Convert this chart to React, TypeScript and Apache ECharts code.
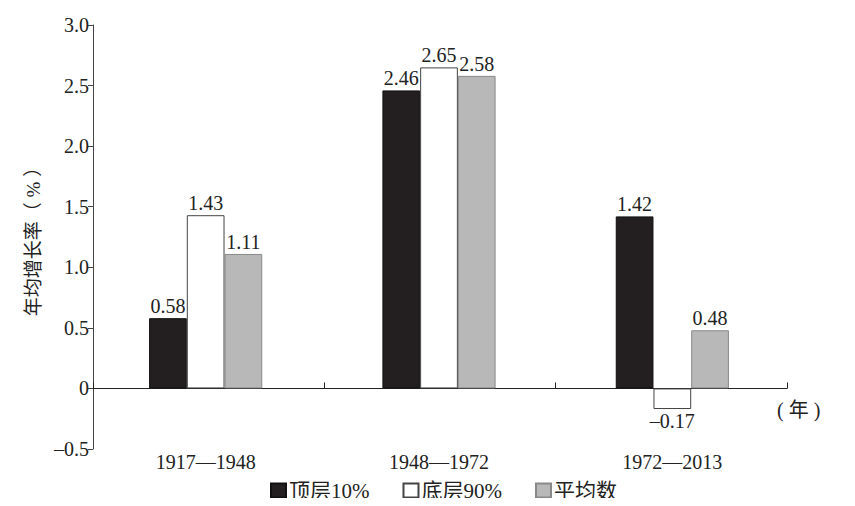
import React, { useEffect, useRef } from "react";
import * as echarts from "echarts";

const categories = ["1917—1948", "1948—1972", "1972—2013"];
const seriesNames = ["顶层10%", "底层90%", "平均数"];
const top10 = [0.58, 2.46, 1.42];
const bottom90 = [1.43, 2.65, -0.17];
const average = [1.11, 2.58, 0.48];
const yMin = -0.5;
const yMax = 3.0;
const yInterval = 0.5;

const FONT = "'Liberation Serif', 'Noto Sans CJK SC', serif";
const dash = (s: string) => s.replace("-", "–");

export default function App() {
  const ref = useRef<HTMLDivElement>(null);
  useEffect(() => {
    if (!ref.current) return;
    const chart = echarts.init(ref.current, null, { renderer: "svg" });
    const fmt = (v: number) => dash(v.toFixed(2));
    const mk = (arr: number[]) =>
      arr.map((v) => ({
        value: v,
        label: { position: v < 0 ? "bottom" : "top" },
      }));
    const baseLabel = {
      show: true,
      fontSize: 20,
      fontFamily: FONT,
      color: "#222",
      distance: 2,
      formatter: (p: any) => fmt(p.value),
    };
    chart.setOption({
      animation: false,
      backgroundColor: "#fff",
      textStyle: { fontFamily: FONT },
      grid: [
        { left: 89, right: 66, top: 25, bottom: 57, containLabel: false },
        { left: 93, right: 68, top: 25, bottom: 57, containLabel: false },
      ],
      legend: {
        data: seriesNames,
        left: 270,
        top: 480,
        padding: 0,
        itemWidth: 15,
        itemHeight: 14,
        itemGap: 33,
        icon: "rect",
        selectedMode: false,
        textStyle: { fontSize: 21, fontFamily: FONT, color: "#222", padding: [0, 0, 0, -2] },
      },
      xAxis: [
        {
          type: "category",
          gridIndex: 0,
          data: categories,
          position: "bottom",
          axisLine: { show: false, onZero: false },
          axisTick: { show: false },
          axisLabel: { fontSize: 20, fontFamily: FONT, color: "#222", margin: 3 },
        },
        {
          type: "category",
          gridIndex: 1,
          data: categories,
          position: "bottom",
          axisLine: { show: true, onZero: true, lineStyle: { color: "#222", width: 1 } },
          axisTick: { show: true, inside: true, length: 6, lineStyle: { color: "#222" } },
          axisLabel: { show: false },
          splitLine: { show: false },
        },
      ],
      yAxis: [
        {
          type: "value",
          gridIndex: 0,
          min: yMin,
          max: yMax,
          interval: yInterval,
          show: false,
          splitLine: { show: false },
        },
        {
          type: "value",
          gridIndex: 1,
          min: yMin,
          max: yMax,
          interval: yInterval,
          name: "年均增长率（ % ）",
          nameLocation: "middle",
          nameRotate: 90,
          nameGap: 50,
          nameTextStyle: { fontSize: 19, fontFamily: FONT, color: "#222" },
          axisLine: { show: true, lineStyle: { color: "#444" } },
          axisTick: { show: true, length: 5, lineStyle: { color: "#444" } },
          splitLine: { show: false },
          axisLabel: {
            fontSize: 20,
            fontFamily: FONT,
            color: "#222",
            margin: 4,
            formatter: (v: number) => (v === 0 ? "0" : dash(v.toFixed(1))),
          },
        },
      ],
      series: [
        {
          name: seriesNames[0],
          type: "bar",
          xAxisIndex: 0,
          yAxisIndex: 0,
          data: mk(top10),
          barGap: "0%",
          barCategoryGap: "51.5%",
          itemStyle: { color: "#231f20", borderColor: "#111", borderWidth: 1 },
          label: baseLabel,
        },
        {
          name: seriesNames[1],
          type: "bar",
          xAxisIndex: 0,
          yAxisIndex: 0,
          data: mk(bottom90),
          barGap: "0%",
          barCategoryGap: "51.5%",
          itemStyle: { color: "#ffffff", borderColor: "#444", borderWidth: 1 },
          label: baseLabel,
        },
        {
          name: seriesNames[2],
          type: "bar",
          xAxisIndex: 0,
          yAxisIndex: 0,
          data: mk(average),
          barGap: "0%",
          barCategoryGap: "51.5%",
          itemStyle: { color: "#b8b8b8", borderColor: "#888", borderWidth: 1 },
          label: baseLabel,
        },
      ],
      graphic: [
        {
          type: "text",
          left: 777,
          top: 400,
          style: { text: "( 年 )", fontSize: 20, fontFamily: FONT, fill: "#222" },
        },
      ],
    });
    return () => chart.dispose();
  }, []);
  return <div ref={ref} style={{ width: 855, height: 506, margin: -8 }} />;
}
